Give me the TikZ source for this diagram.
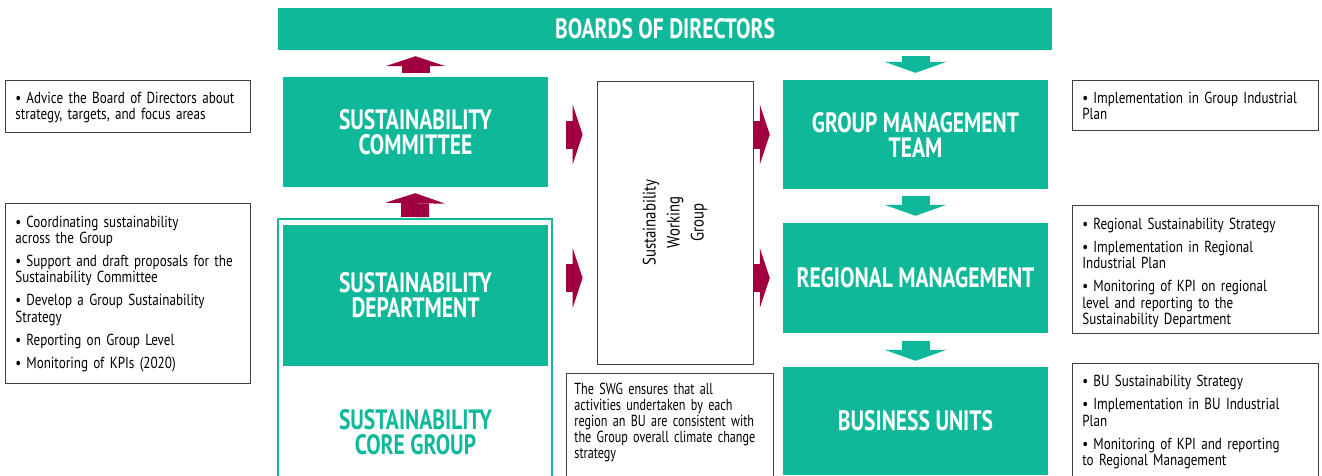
\documentclass[tikz,border=0pt]{standalone}
\usepackage{fontspec}
\setmainfont[FakeStretch=0.82]{PT Sans}
\newfontfamily\headfont[FakeStretch=0.77]{PT Sans}
\newfontfamily\narrowfont[FakeStretch=0.76]{PT Sans}
\usetikzlibrary{arrows.meta, calc, positioning}

\definecolor{boxteal}{RGB}{16,184,154}
\definecolor{arrowred}{RGB}{160,0,64}
\newcommand{\bul}[1]{\par\addvspace{7pt}\hangindent=11pt\hangafter=1\noindent\makebox[11pt][l]{\textbullet}#1\par}
\newcommand{\lift}[1]{\par\kern#1\relax}

\begin{document}
\begin{tikzpicture}[x=1pt, y=-1pt,
  tealbox/.style={fill=boxteal, text=white, align=center, inner sep=0pt,
    font=\headfont\bfseries\fontsize{28}{25}\selectfont},
  notebox/.style={draw=black!75, line width=0.8pt, anchor=north west, align=left,
    inner xsep=10pt, inner ysep=0pt, font=\fontsize{16}{16.2}\selectfont},
  redarrow/.style={arrowred, line width=28pt,
    -{Triangle[length=10pt, width=60pt, line width=0pt]}},
  tealarrow/.style={boxteal, line width=28pt,
    -{Triangle[length=11pt, width=62pt, line width=0pt]}}]
  \useasboundingbox (0,0) rectangle (1322,475);

  % main boxes
  \node[tealbox, minimum width=774pt, minimum height=42pt] (board) at (665,29) {BOARDS OF DIRECTORS};
  \node[tealbox, minimum width=265pt, minimum height=110pt] (sc) at (415.5,132) {SUSTAINABILITY\\COMMITTEE};
  \node[draw=boxteal, line width=2pt, minimum width=274pt, minimum height=272pt, anchor=north] (core) at (415,218) {};
  \node[tealbox, minimum width=265pt, minimum height=141pt] (sd) at (415.5,295.5) {SUSTAINABILITY\\DEPARTMENT};
  \node[tealbox, fill=none, text=boxteal] (coretxt) at (415.5,432) {SUSTAINABILITY\\CORE GROUP};
  \node[draw=black!75, line width=0.8pt, minimum width=156pt, minimum height=283pt] (swg) at (675,222.5) {};
  \node[rotate=90, align=center, font=\fontsize{18}{24}\selectfont] (swgtxt) at (swg.center) {Sustainability\\Working\\Group};
  \node[tealbox, minimum width=265pt, minimum height=109pt] (gmt) at (915.5,134.5) {GROUP MANAGEMENT\\TEAM};
  \node[tealbox, minimum width=265pt, minimum height=110pt] (rm) at (915.5,278) {REGIONAL MANAGEMENT};
  \node[tealbox, minimum width=265pt, minimum height=108pt] (bu) at (915.5,421) {BUSINESS UNITS};

  % notes
  \node[notebox, text width=225pt, minimum height=48pt] (advnote) at (5,80)
    {\bul{Advice the Board of Directors about\\strategy, targets, and focus areas}\lift{9pt}};
  \node[notebox, text width=225pt, minimum height=180pt] (sdnote) at (5,203)
    {\bul{Coordinating sustainability\\across the Group}
     \bul{Support and draft proposals for the\\Sustainability Committee}
     \bul{Develop a Group Sustainability\\Strategy}
     \bul{Reporting on Group Level}
     \bul{Monitoring of KPIs (2020)}\lift{11pt}};
  \node[notebox, text width=191pt, inner xsep=8pt, minimum height=112pt,
    font=\narrowfont\fontsize{16}{16.2}\selectfont] (swgnote) at (566,373)
    {The SWG ensures that all\\activities undertaken by each\\region an BU are consistent with\\the Group overall climate change\\strategy\lift{14pt}};
  \node[notebox, text width=226pt, minimum height=45pt] (gmtnote) at (1072,80)
    {\bul{Implementation in Group Industrial\\Plan}\lift{10pt}};
  \node[notebox, text width=226pt, minimum height=128pt] (rmnote) at (1072,205)
    {\bul{Regional Sustainability Strategy}
     \bul{Implementation in Regional\\Industrial Plan}
     \bul{Monitoring of KPI on regional\\level and reporting to the\\Sustainability Department}\lift{5pt}};
  \node[notebox, text width=226pt, minimum height=115pt] (bunote) at (1072,363)
    {\bul{BU Sustainability Strategy}
     \bul{Implementation in BU Industrial\\Plan}
     \bul{Monitoring of KPI and reporting\\to Regional Management}\lift{15pt}};

  % block arrows
  \draw[redarrow, shorten <=4pt, shorten >=6pt] (sc.north) -- (sc.north |- board.south);
  \draw[redarrow, shorten <=1pt, shorten >=6pt] (core.north) -- (sc.south);
  \draw[redarrow, shorten <=18pt, shorten >=14pt] (sc.east |- gmt) -- (swg.west |- gmt);
  \draw[redarrow, shorten <=18pt, shorten >=14pt] (sc.east |- rm) -- (swg.west |- rm);
  \draw[redarrow, shorten >=13pt] (swg.east |- gmt) -- (gmt.west);
  \draw[redarrow, shorten >=13pt] (swg.east |- rm) -- (rm.west);
  \draw[tealarrow, shorten <=6pt, shorten >=7pt] (board.south -| gmt) -- (gmt.north);
  \draw[tealarrow, shorten <=7pt, shorten >=7pt] (gmt.south) -- (rm.north);
  \draw[tealarrow, shorten <=8pt, shorten >=6pt] (rm.south) -- (bu.north);
\end{tikzpicture}
\end{document}
